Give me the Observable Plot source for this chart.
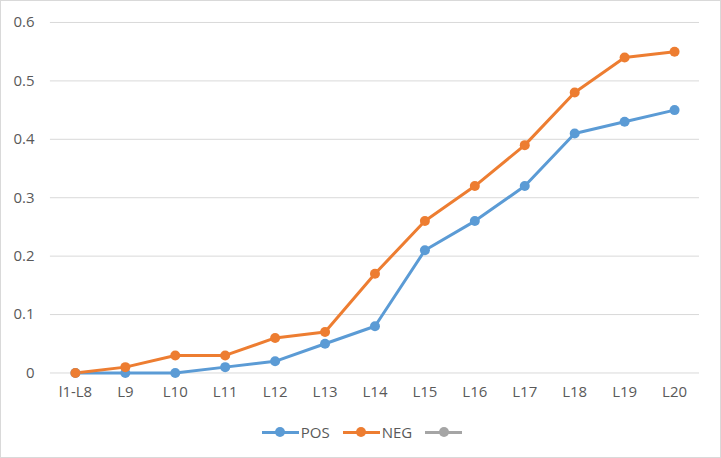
<!DOCTYPE html>
<html>
<head>
<meta charset="utf-8">
<script src="https://cdn.jsdelivr.net/npm/d3@7"></script>
<script src="https://cdn.jsdelivr.net/npm/@observablehq/plot@0.6"></script>
<style>
  html, body { margin: 0; padding: 0; background: #fff; }
  #frame { position: relative; width: 721px; height: 458px; box-sizing: border-box; border: 1px solid #d9d9d9; overflow: hidden; font-family: "Open Sans", sans-serif; }
  #chart { position: absolute; left: -1px; top: -1px; }
  #legend { position: absolute; left: 0; width: 719px; top: 421px; display: flex; justify-content: center; align-items: center; gap: 13px; font-size: 15px; color: #595959; padding-left: 3px; box-sizing: border-box;}
  .item { display: flex; align-items: center; gap: 2px; }
  .sw { position: relative; width: 37px; height: 18px; }
  .sw .ln { position: absolute; left: 0; right: 0; top: 7.5px; height: 3px; }
  .sw .dt { position: absolute; left: 13.5px; top: 4px; width: 10px; height: 10px; border-radius: 50%; }
</style>
</head>
<body>
<div id="frame">
  <div id="chart"></div>
  <div id="legend"></div>
</div>
<script>
const categories = ["l1-L8","L9","L10","L11","L12","L13","L14","L15","L16","L17","L18","L19","L20"];
const posValues = [0, 0, 0, 0.01, 0.02, 0.05, 0.08, 0.21, 0.26, 0.32, 0.41, 0.43, 0.45];
const negValues = [0, 0.01, 0.03, 0.03, 0.06, 0.07, 0.17, 0.26, 0.32, 0.39, 0.48, 0.54, 0.55];
const seriesNames = ["POS", "NEG", ""];
const seriesColors = ["#5B9BD5", "#ED7D31", "#A5A5A5"];
const yTicks = [0, 0.1, 0.2, 0.3, 0.4, 0.5, 0.6];

const rows = [];
categories.forEach((c, i) => {
  rows.push({cat: c, value: posValues[i], series: "POS"});
  rows.push({cat: c, value: negValues[i], series: "NEG"});
});

const chart = Plot.plot({
  width: 721,
  height: 412,
  marginLeft: 50,
  marginRight: 21,
  marginTop: 22,
  marginBottom: 39,
  style: { fontFamily: "Open Sans, sans-serif", fontSize: "15px", color: "#595959", background: "transparent" },
  x: { type: "point", domain: categories, padding: 0.5, label: null },
  y: { domain: [0, 0.6], label: null },
  color: { domain: seriesNames, range: seriesColors },
  marks: [
    Plot.gridY(yTicks, { stroke: "#d9d9d9", strokeOpacity: 1, strokeWidth: 1 }),
    Plot.axisY(yTicks, { tickSize: 0, tickPadding: 16, fontSize: 15, tickFormat: d => String(+d.toFixed(1)), fill: "#595959" }),
    Plot.axisX({ tickSize: 0, tickPadding: 13, fontSize: 15, fill: "#595959" }),
    Plot.line(rows, { x: "cat", y: "value", z: "series", stroke: "series", strokeWidth: 3, curve: "linear" }),
    Plot.dot(rows, { x: "cat", y: "value", fill: "series", r: 5, stroke: "none" })
  ]
});
document.getElementById("chart").appendChild(chart);

const legend = document.getElementById("legend");
seriesNames.forEach((name, i) => {
  const item = document.createElement("div");
  item.className = "item";
  const sw = document.createElement("div");
  sw.className = "sw";
  const ln = document.createElement("div"); ln.className = "ln"; ln.style.background = seriesColors[i];
  const dt = document.createElement("div"); dt.className = "dt"; dt.style.background = seriesColors[i];
  sw.appendChild(ln); sw.appendChild(dt);
  item.appendChild(sw);
  if (name) {
    const t = document.createElement("span");
    t.textContent = name;
    item.appendChild(t);
  }
  legend.appendChild(item);
});
</script>
</body>
</html>
